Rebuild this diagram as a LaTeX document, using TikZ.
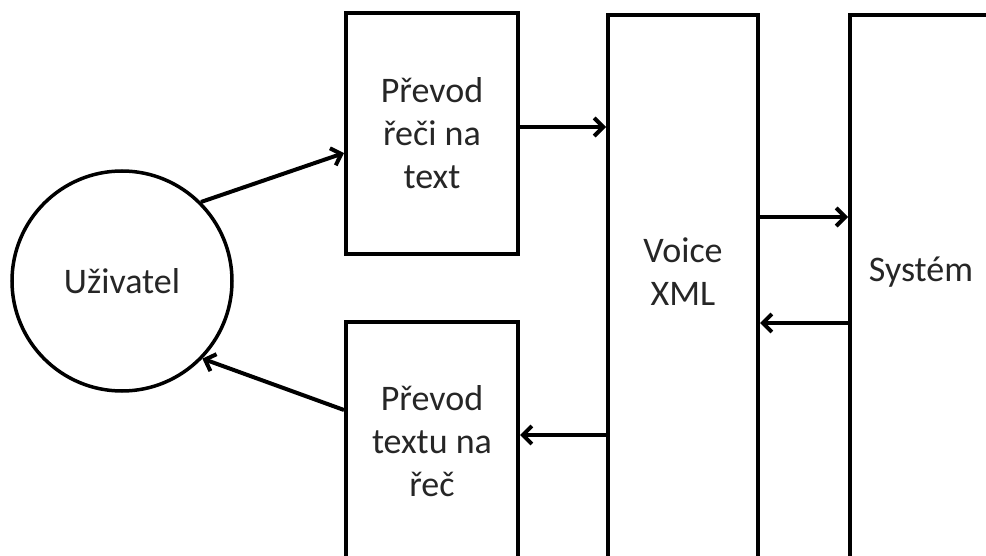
\documentclass[tikz,border=0pt]{standalone}
\usepackage{fontspec}
\setmainfont{Carlito}
\usetikzlibrary{arrows.meta}

\begin{document}
\begin{tikzpicture}[x=1pt,y=-1pt,
	blok/.style={draw, line width=4pt, rectangle, inner sep=0pt},
	popis/.style={align=center, text=black!85, font=\fontsize{36}{43}\selectfont},
	sipka/.style={line width=4pt, -{Straight Barb[length=9pt,width=18pt]}}]
	\clip (0,0) rectangle (986,556);

	\node[draw, circle, line width=3.5pt, minimum size=220pt, inner sep=0pt, popis] (user) at (122,281) {Uživatel};

	\begin{scope}[every node/.style={blok, popis, minimum width=172pt}]
	\node[minimum height=241pt] (stt) at (432,133.5) {Převod\\řeči na\\text};
	\node[minimum height=238pt] (tts) at (432,441) {Převod\\textu na\\řeč};
	\end{scope}

	\node[blok, minimum width=150pt, minimum height=600pt, anchor=north] (vxml) at (683,13) {};
	\node[popis] (vxmltext) at (683,272) {Voice\\XML};
	\node[blok, minimum width=150pt, minimum height=600pt, anchor=north] (sys) at (925,13) {};
	\node[popis] (systext) at (921,272) {Systém};

	\draw[sipka] (user.45) -- (stt.west |- 0,153);
	\draw[sipka] (tts.west |- 0,410) -- (user.-44);
	\draw[sipka] (stt.east |- 0,127) -- (vxml.west |- 0,127);
	\draw[sipka] (vxml.west |- 0,435) -- (tts.east |- 0,435);
	\draw[sipka] (vxml.east |- 0,217) -- (sys.west |- 0,217);
	\draw[sipka] (sys.west |- 0,323) -- (vxml.east |- 0,323);
\end{tikzpicture}
\end{document}
